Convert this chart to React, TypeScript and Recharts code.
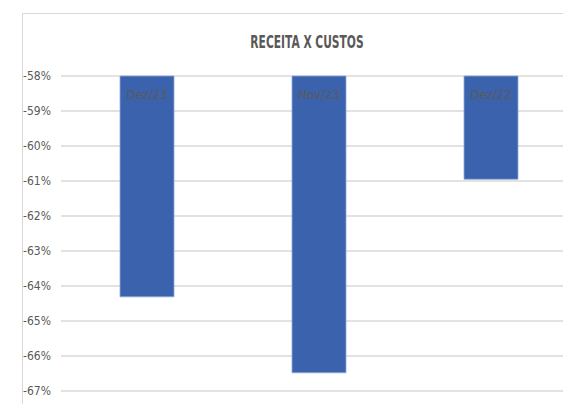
import React from 'react';
import { BarChart, Bar, XAxis, YAxis, CartesianGrid, LabelList } from 'recharts';

const months = ['Dez/23', 'Nov/23', 'Dez/22'];
const ratios = [-64.31, -66.48, -60.95];
const yTicks = [-58, -59, -60, -61, -62, -63, -64, -65, -66, -67];

const data = months.map((m, i) => ({ name: m, value: ratios[i] }));

const FONT = '"Liberation Sans Narrow", "DejaVu Sans Condensed", sans-serif';

export default function App() {
    return (
        <div style={{ position: 'fixed', left: 0, top: 0, width: 563, height: 404, overflow: 'hidden', background: '#fff' }}>
            <style>{'html,body{margin:0;overflow:hidden}'}</style>
            {/* chart frame edges (left + top only, the rest is cropped off) */}
            <div style={{ position: 'absolute', left: 22, top: 13, width: 1, height: 400, background: '#d9d9d9' }} />
            <div style={{ position: 'absolute', left: 22, top: 13, width: 600, height: 1, background: '#d9d9d9' }} />
            <div
                style={{
                    position: 'absolute', left: 0, top: 33, width: 614, textAlign: 'center',
                    fontFamily: FONT, fontSize: 18, lineHeight: '18px', fontWeight: 'bold', color: '#595959',
                    transform: 'scaleX(0.66)',
                }}
            >
                RECEITA X CUSTOS
            </div>
            <div style={{ position: 'absolute', left: 0, top: 0 }}>
                <BarChart width={577} height={404} data={data} margin={{ top: 76, right: 0, bottom: 13, left: 0 }}>
                    <CartesianGrid vertical={false} stroke="#d9d9d9" strokeWidth={1.5} />
                    <XAxis dataKey="name" hide />
                    <YAxis
                        width={61}
                        domain={[-67, -58]}
                        ticks={yTicks}
                        interval={0}
                        axisLine={false}
                        tickLine={false}
                        tickSize={0}
                        tickMargin={10}
                        tickFormatter={(v: number) => `${v}%`}
                        tick={{ fill: '#595959', fontSize: 12, fontFamily: FONT }}
                    />
                    <Bar dataKey="value" fill="#3b63ad" stroke="#8faadc" strokeWidth={0.8} barSize={54} isAnimationActive={false}>
                        <LabelList dataKey="name" position="insideBottom" offset={14} fill="#595959" fontSize={13} fontFamily={FONT} />
                    </Bar>
                </BarChart>
            </div>
        </div>
    );
}
